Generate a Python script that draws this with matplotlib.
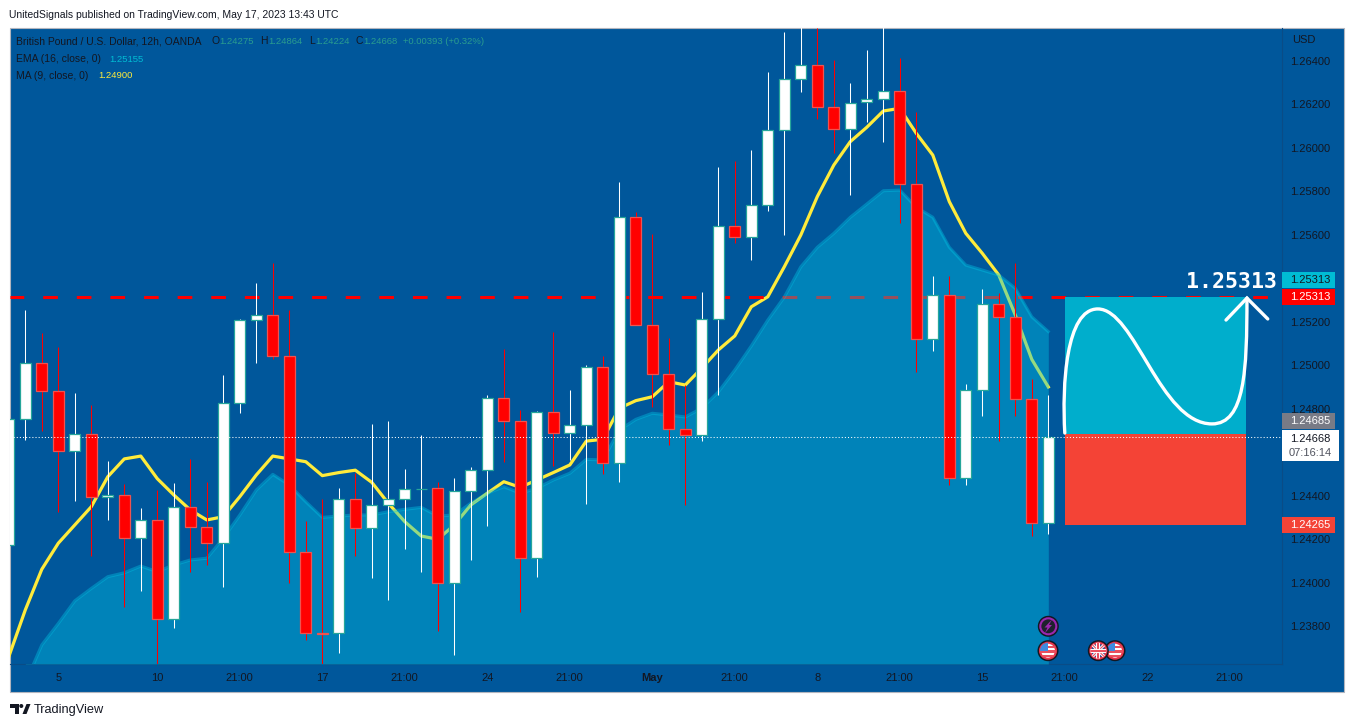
import matplotlib
matplotlib.use("Agg")
import matplotlib.pyplot as plt
from matplotlib.patches import Rectangle, Circle, Polygon, PathPatch
from matplotlib.path import Path

W, H = 1354, 727
BG = "#00579B"
DARK = "#131722"
FONT = "Liberation Sans"

plt.rcParams["font.family"] = [FONT, "DejaVu Sans"]

opens = [1.24171, 1.24751, 1.25010, 1.24880, 1.24607, 1.24682, 1.24392, 1.24401, 1.24204, 1.24286,
         1.23831, 1.24349, 1.24254, 1.24181, 1.24825, 1.25207, 1.25230, 1.25041, 1.24139, 1.23766,
         1.23766, 1.24383, 1.24250, 1.24355, 1.24383, 1.24430, 1.24434, 1.23997, 1.24420, 1.24517,
         1.24848, 1.24742, 1.24112, 1.24786, 1.24687, 1.24724, 1.24991, 1.24552, 1.25681, 1.25184,
         1.24958, 1.24705, 1.24678, 1.25211, 1.25639, 1.25589, 1.25736, 1.26081, 1.26319, 1.26380,
         1.26190, 1.26088, 1.26210, 1.26227, 1.26261, 1.25835, 1.25119, 1.25322, 1.24480, 1.24885,
         1.25280, 1.25221, 1.24843, 1.24275]
highs = [1.24751, 1.25254, 1.25148, 1.25084, 1.24872, 1.24817, 1.24559, 1.24454, 1.24342, 1.24426,
         1.24457, 1.24567, 1.24464, 1.24955, 1.25211, 1.25378, 1.25470, 1.25254, 1.24282, 1.24383,
         1.24435, 1.24503, 1.24730, 1.24743, 1.24523, 1.24679, 1.24464, 1.24480, 1.24530, 1.24863,
         1.25073, 1.24794, 1.24790, 1.25154, 1.24886, 1.25001, 1.25043, 1.25842, 1.25707, 1.25604,
         1.25124, 1.24909, 1.25336, 1.25912, 1.25938, 1.25990, 1.26349, 1.26532, 1.26570, 1.26550,
         1.26405, 1.26297, 1.26451, 1.26570, 1.26414, 1.26165, 1.25411, 1.25409, 1.24914, 1.25351,
         1.25331, 1.25469, 1.24937, 1.24864]
lows = [1.24171, 1.24656, 1.24699, 1.24326, 1.24377, 1.24124, 1.24288, 1.23889, 1.23962, 1.23610,
        1.23792, 1.24050, 1.24081, 1.23981, 1.24782, 1.25009, 1.25027, 1.23997, 1.23736, 1.23610,
        1.23676, 1.24124, 1.24022, 1.23920, 1.24156, 1.24050, 1.23778, 1.23667, 1.24104, 1.24260,
        1.24556, 1.23866, 1.24027, 1.24538, 1.24564, 1.24361, 1.24500, 1.24464, 1.25184, 1.24809,
        1.24633, 1.24357, 1.24653, 1.24863, 1.25561, 1.25486, 1.25711, 1.25601, 1.26259, 1.26133,
        1.25975, 1.25785, 1.26121, 1.26029, 1.25656, 1.24970, 1.25067, 1.24449, 1.24449, 1.24766,
        1.24653, 1.24768, 1.24216, 1.24224]
closes = [1.24751, 1.25010, 1.24880, 1.24607, 1.24682, 1.24392, 1.24401, 1.24204, 1.24286, 1.23831,
          1.24349, 1.24254, 1.24181, 1.24825, 1.25207, 1.25230, 1.25041, 1.24139, 1.23766, 1.23764,
          1.24383, 1.24250, 1.24355, 1.24383, 1.24429, 1.24431, 1.23997, 1.24420, 1.24517, 1.24848,
          1.24742, 1.24112, 1.24786, 1.24687, 1.24724, 1.24991, 1.24552, 1.25681, 1.25184, 1.24958,
          1.24705, 1.24678, 1.25211, 1.25639, 1.25589, 1.25736, 1.26081, 1.26319, 1.26380, 1.26190,
          1.26088, 1.26208, 1.26227, 1.26261, 1.25835, 1.25119, 1.25322, 1.24480, 1.24885, 1.25280,
          1.25221, 1.24843, 1.24273, 1.24668]

ma9 = [1.23659, 1.23874, 1.24061, 1.24181, 1.24265, 1.24349, 1.24487, 1.24569, 1.24582, 1.24478,
       1.24403, 1.24334, 1.24288, 1.24303, 1.24395, 1.24495, 1.24582, 1.24569, 1.24556, 1.24492,
       1.24506, 1.24517, 1.24461, 1.24365, 1.24280, 1.24214, 1.24199, 1.24265, 1.24357, 1.24411,
       1.24464, 1.24438, 1.24472, 1.24506, 1.24541, 1.24651, 1.24659, 1.24802, 1.24837, 1.24855,
       1.24924, 1.24909, 1.24987, 1.25070, 1.25135, 1.25269, 1.25315, 1.25453, 1.25599, 1.25776,
       1.25921, 1.26029, 1.26095, 1.26170, 1.26182, 1.26067, 1.25967, 1.25753, 1.25607, 1.25515,
       1.25415, 1.25231, 1.25027, 1.24900]
# EMA starts one bar later than the MA
ema16 = [1.23538, 1.23713, 1.23812, 1.23916, 1.23973, 1.24027, 1.24045, 1.24076, 1.24050,
         1.24081, 1.24104, 1.24112, 1.24204, 1.24311, 1.24426, 1.24498, 1.24449, 1.24372, 1.24300,
         1.24306, 1.24311, 1.24311, 1.24326, 1.24337, 1.24346, 1.24306, 1.24311, 1.24365, 1.24411,
         1.24441, 1.24411, 1.24434, 1.24472, 1.24503, 1.24567, 1.24564, 1.24702, 1.24751, 1.24779,
         1.24771, 1.24762, 1.24803, 1.24877, 1.24978, 1.25089, 1.25208, 1.25314, 1.25453, 1.25543,
         1.25607, 1.25681, 1.25742, 1.25803, 1.25806, 1.25727, 1.25681, 1.25543, 1.25461, 1.25438,
         1.25415, 1.25354, 1.25223, 1.25155]

price_ticks = [1.264, 1.262, 1.260, 1.258, 1.256, 1.252, 1.250, 1.248, 1.244, 1.242, 1.240, 1.238]
time_pos = [3, 9, 14, 19, 24, 29, 34, 39, 44, 49, 54, 59, 64, 69, 74]
time_labels = ["5", "10", "21:00", "17", "21:00", "24", "21:00", "May", "21:00", "8", "21:00", "15",
               "21:00", "22", "21:00"]

target = 1.25313
entry = 1.24685
stop = 1.24265
last_close = 1.24668
box_left, box_right = 64.0, 75.0

# curve and arrow drawn on the position box: (bar, price)
curve_pts = [(64.0, 1.24688), (63.83, 1.24909), (64.07, 1.25259), (66.0, 1.25259),
             (68.25, 1.25259), (69.77, 1.24730), (72.92, 1.24730),
             (74.92, 1.24730), (75.04, 1.24978), (75.04, 1.25309)]
arrow_pts = [(73.77, 1.25208), (75.04, 1.25309), (76.3, 1.25213)]


def px_axes(zorder):
    a = fig.add_axes([0, 0, 1, 1], zorder=zorder)
    a.set_xlim(0, W)
    a.set_ylim(H, 0)
    a.axis("off")
    a.patch.set_visible(False)
    return a


def flag_us(a, cx, cy):
    a.add_patch(Circle((cx, cy), 10.5, fc=DARK, ec="none"))
    clip = Circle((cx, cy), 8, fc="white", ec="#E8344A", lw=1.5)
    a.add_patch(clip)
    for k in range(3):
        s = Rectangle((cx - 9, cy - 5 + k * 4.6), 18, 2.4, fc="#E8505F", ec="none")
        a.add_patch(s)
        s.set_clip_path(clip)
    c = Rectangle((cx - 9, cy - 9), 9, 9, fc="#3E8BE0", ec="none")
    a.add_patch(c)
    c.set_clip_path(clip)


def flag_uk(a, cx, cy):
    a.add_patch(Circle((cx, cy), 10.5, fc=DARK, ec="none"))
    clip = Circle((cx, cy), 8, fc="#1F3F8F", ec="#E8344A", lw=1.5)
    a.add_patch(clip)
    for dx, dy in [(8, 8), (8, -8)]:
        l1, = a.plot([cx - dx, cx + dx], [cy - dy, cy + dy], color="white", lw=2.2)
        l2, = a.plot([cx - dx, cx + dx], [cy - dy, cy + dy], color="#E8505F", lw=0.8)
        l1.set_clip_path(clip)
        l2.set_clip_path(clip)
    for xs, ys in [([cx, cx], [cy - 8, cy + 8]), ([cx - 8, cx + 8], [cy, cy])]:
        l1, = a.plot(xs, ys, color="white", lw=3)
        l2, = a.plot(xs, ys, color="#E8505F", lw=1.5)
        l1.set_clip_path(clip)
        l2.set_clip_path(clip)


fig = plt.figure(figsize=(W / 100, H / 100), dpi=100, facecolor="white")

bg = px_axes(0)
bg.add_patch(Rectangle((9.5, 27.5), 1334, 664, fc=BG, ec="#B2B5BE", lw=0.8))

ax = fig.add_axes([10 / W, 1 - 664 / H, 1272 / W, 636 / H], zorder=1)
ax.patch.set_visible(False)
px_per_price = 21731
ax.set_xlim((10 - 8.8) / 16.5, (1282 - 8.8) / 16.5)
ax.set_ylim(1.264 - 603 / px_per_price, 1.264 + 33 / px_per_price)

bars = list(range(len(opens)))
ema_bars = bars[1:]

# the area sits over the MA and the dashed level, the candles sit over the area
ax.plot(bars, ma9, color="#FFEB3B", lw=2.3, zorder=2)
ax.plot([ax.get_xlim()[0], ax.get_xlim()[1]], [target, target], color="#FF0000", lw=2.2,
        linestyle=(0.3, (4.8, 6.2)), dash_capstyle="butt", zorder=2)
ax.fill_between(ema_bars, ema16, ax.get_ylim()[0], color="#00C4E4", alpha=0.41, lw=0, zorder=3)
ax.plot(ema_bars, ema16, color="#00C4E4", alpha=0.4, lw=2.2, zorder=3)

for i in bars:
    up = closes[i] >= opens[i]
    wick = "white" if up else "#FF0000"
    body = "white" if up else "#FF0000"
    edge = "#26A69A" if up else "#EF5350"
    ax.vlines(i, lows[i], highs[i], color=wick, lw=0.75, zorder=4, snap=True)
    ax.bar(i, abs(closes[i] - opens[i]), bottom=min(opens[i], closes[i]), width=0.68,
           facecolor=body, edgecolor=edge, lw=0.9, zorder=5)

# position box
ax.add_patch(Rectangle((box_left, entry), box_right - box_left, target - entry, fc="#00AECC", ec="none", zorder=6))
ax.add_patch(Rectangle((box_left, stop), box_right - box_left, entry - stop, fc="#F44336", ec="none", zorder=6))
curve_path = Path(curve_pts, [Path.MOVETO] + [Path.CURVE4] * 9)
ax.add_patch(PathPatch(curve_path, fc="none", ec="white", lw=2.4, capstyle="round", zorder=7))
ax.plot([p[0] for p in arrow_pts], [p[1] for p in arrow_pts], color="white", lw=2.4,
        solid_capstyle="round", solid_joinstyle="miter", zorder=7)

ax.plot(ax.get_xlim(), [last_close, last_close], color="white", lw=0.75, linestyle=(0, (1, 2)), zorder=8)

ax.yaxis.tick_right()
ax.set_yticks(price_ticks)
ax.set_yticklabels(["%.5f" % p for p in price_ticks])
ax.set_xticks(time_pos)
ax.set_xticklabels(time_labels)
ax.tick_params(length=0, labelsize=8, labelcolor=DARK)
ax.tick_params(axis="y", pad=6)
ax.tick_params(axis="x", pad=6.5)
for tick, name in zip(ax.get_xticklabels(), time_labels):
    if name == "May":
        tick.set_fontweight("bold")
for side in ["top", "left"]:
    ax.spines[side].set_visible(False)
for side in ["right", "bottom"]:
    ax.spines[side].set_color("#0A4C86")
    ax.spines[side].set_linewidth(0.8)

ov = px_axes(2)

ov.text(9, 15, "UnitedSignals published on TradingView.com, May 17, 2023 13:43 UTC",
        fontsize=7.5, color=DARK, va="center")

# legend rows: one piece of text per colour, the names run wider than the values
GREEN = "#2A9D8F"
legend_rows = [
    (41.5, [(16, "British Pound / U.S. Dollar, 12h, OANDA", DARK), (211, "O", DARK), (219, "1.24275", GREEN),
            (260, "H", DARK), (268, "1.24864", GREEN), (309, "L", DARK), (315, "1.24224", GREEN),
            (355, "C", DARK), (363, "1.24668", GREEN), (403, "+0.00393 (+0.32%)", GREEN)]),
    (59, [(16, "EMA (16, close, 0)", DARK), (109, "1.25155", "#00BCD4")]),
    (76, [(16, "MA (9, close, 0)", DARK), (98, "1.24900", "#FFEB3B")]),
]
for row_y, parts in legend_rows:
    for x, s, c in parts:
        ov.text(x, row_y, s, fontsize=7.45 if c == DARK else 6.8, color=c, va="center")

ov.text(1292, 40, "USD", fontsize=8, color=DARK, va="center")

# price labels on the axis
axis_tags = [
    (272, 288, 1335, "#00BCD4", "1.25313", DARK),
    (289, 305, 1335, "#FF0000", "1.25313", "white"),
    (413, 429, 1335, "#787B86", "1.24685", "white"),
    (517, 533, 1335, "#F44336", "1.24265", "white"),
]
for y0, y1, x1, fc, s, tc in axis_tags:
    ov.add_patch(Rectangle((1282, y0), x1 - 1282, y1 - y0, fc=fc, ec="none"))
    ov.text(1290, (y0 + y1) / 2, s, fontsize=8, color=tc, va="center")
ov.add_patch(Rectangle((1282, 430), 57, 31, fc="white", ec="none"))
ov.text(1290, 438.5, "1.24668", fontsize=8, color=DARK, va="center")
ov.text(1289, 452.5, "07:16:14", fontsize=8, color="#50535E", va="center")

ov.text(1232, 282, "1.25313", fontsize=15.5, fontweight="bold", family="DejaVu Sans Mono",
        color="white", ha="center", va="center")

# event markers
ov.add_patch(Circle((1048.3, 626.3), 10.5, fc=DARK, ec="none"))
ov.add_patch(Circle((1048.3, 626.3), 8, fc="#1E222D", ec="#9C27B0", lw=1.5))
ov.add_patch(Polygon([(1052, 619.5), (1044.5, 627.5), (1047.5, 627.5), (1045, 633), (1052, 625),
                      (1049, 625)], fc="#9C27B0", ec="none"))
flag_us(ov, 1048, 650.7)
flag_us(ov, 1115, 650.7)
flag_uk(ov, 1098.3, 650.7)

# footer logo and name
ov.add_patch(Polygon([(10, 704), (19, 704), (19, 714), (14.5, 714), (14.5, 708), (10, 708)], fc=DARK, ec="none"))
ov.add_patch(Circle((21.3, 706), 2, fc=DARK, ec="none"))
ov.add_patch(Polygon([(22.5, 714), (26.5, 704), (30.5, 704), (26.5, 714)], fc=DARK, ec="none"))
ov.text(34, 709.5, "TradingView", fontsize=9.2, color=DARK, va="center")

fig.savefig("out.png", dpi=100, facecolor="white")
